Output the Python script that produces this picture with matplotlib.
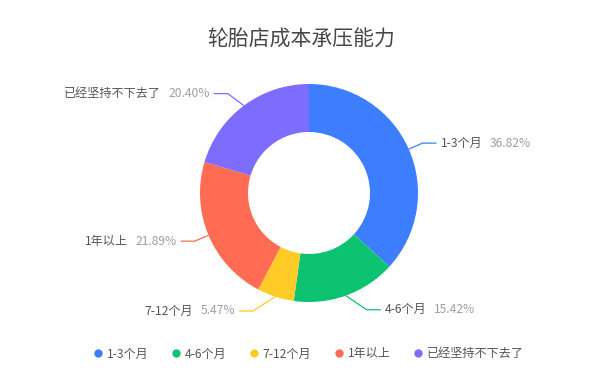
import matplotlib
matplotlib.use("Agg")
import matplotlib.pyplot as plt
from matplotlib.lines import Line2D
import numpy as np

plt.rcParams["font.family"] = ["Noto Sans CJK SC", "DejaVu Sans"]

TITLE = "轮胎店成本承压能力"
categories = ["1-3个月", "4-6个月", "7-12个月", "1年以上", "已经坚持不下去了"]
shares = [36.82, 15.42, 5.47, 21.89, 20.40]
colors = ["#3D7EFF", "#0DC271", "#FFCB26", "#FF6B53", "#7E6CFF"]

# layout (pixels, figure is 603x375)
W, H = 603, 375
CX, CY = 309, H - 193
R_OUT, R_IN = 109, 61
LEN1, LEN2, GAP = 15, 14, 4
# extra horizontal nudges on the elbows, mimicking the overlap-avoidance of the original
elbow_nudge = [0, 16, -18, 0, -7]

NAME_COLOR = "#555555"
PCT_COLOR = "#A0A0A0"
FS = 8.7

fig = plt.figure(figsize=(W / 100, H / 100), dpi=100)
ax = fig.add_axes([0, 0, 1, 1])

wedges, _ = ax.pie(
    shares, colors=colors, startangle=90, counterclock=False,
    radius=R_OUT, center=(CX, CY), frame=True,
    wedgeprops=dict(width=R_OUT - R_IN, linewidth=0),
)
ax.set_xlim(0, W)
ax.set_ylim(0, H)
ax.axis("off")

for w, name, val, col, nudge in zip(wedges, categories, shares, colors, elbow_nudge):
    ang = np.deg2rad((w.theta1 + w.theta2) / 2)
    x0, y0 = CX + R_OUT * np.cos(ang), CY + R_OUT * np.sin(ang)
    x1 = CX + (R_OUT + LEN1) * np.cos(ang) + nudge
    y1 = CY + (R_OUT + LEN1) * np.sin(ang)
    right = np.cos(ang) >= 0
    x2 = x1 + LEN2 if right else x1 - LEN2
    ax.plot([x0, x1, x2], [y0, y1, y1], color=col, lw=0.9, solid_capstyle="butt")
    pct = f"{val:.2f}%"
    if right:
        t = ax.text(x2 + GAP, y1, name, ha="left", va="center", fontsize=FS, color=NAME_COLOR)
        ax.annotate(pct, xy=(1, 0.5), xycoords=t, xytext=(5.5, 0), textcoords="offset points",
                    ha="left", va="center", fontsize=FS, color=PCT_COLOR)
    else:
        t = ax.text(x2 - GAP, y1, pct, ha="right", va="center", fontsize=FS, color=PCT_COLOR)
        ax.annotate(name, xy=(0, 0.5), xycoords=t, xytext=(-5.5, 0), textcoords="offset points",
                    ha="right", va="center", fontsize=FS, color=NAME_COLOR)

fig.text(0.499, 1 - 40 / H, TITLE, ha="center", va="center", fontsize=15, color="#464646")

handles = [Line2D([], [], marker="o", ls="none", markersize=6, markerfacecolor=c,
                  markeredgewidth=0) for c in colors]
fig.legend(handles, categories, loc="center", bbox_to_anchor=(0.511, 1 - 354 / H), ncol=5,
           frameon=False, fontsize=FS, handletextpad=0.2, columnspacing=1.8,
           handlelength=1.0, labelcolor=NAME_COLOR)

fig.savefig("out.png", dpi=100)
